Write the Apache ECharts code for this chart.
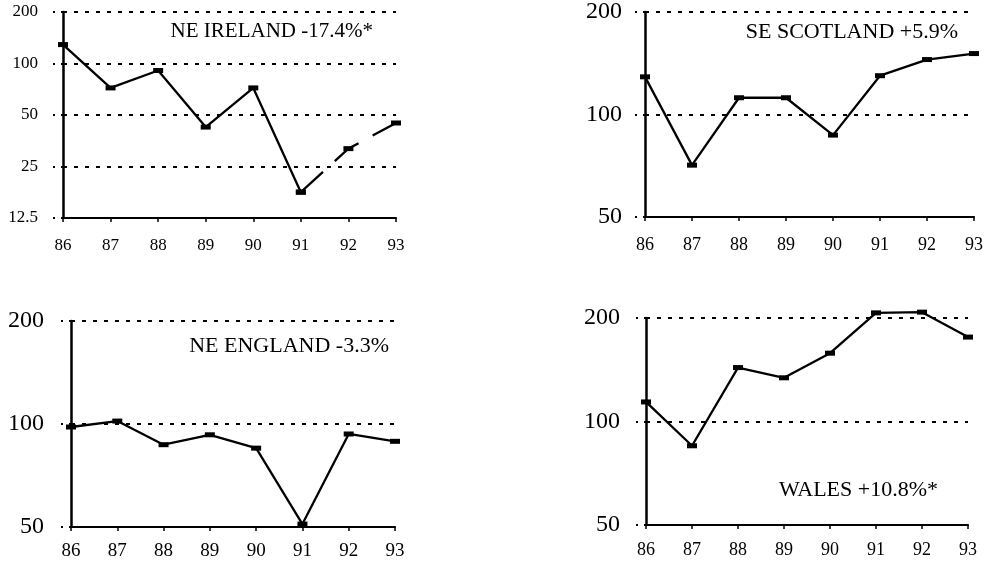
<!DOCTYPE html>
<html><head><meta charset="utf-8">
<script src="https://cdn.jsdelivr.net/npm/echarts/dist/echarts.min.js"></script>
<style>html,body{margin:0;padding:0;background:#fff}#c{width:986px;height:563px}</style>
</head><body><div id="c"></div>
<script>
const years = ['86', '87', '88', '89', '90', '91', '92', '93'];
const neIrelandSolid = [129, 72, 91, 42.5, 72, 17.7, null, null];
const neIrelandDashed = [null, null, null, null, null, 17.7, 31.8, 44.9];
const seScotland = [129, 71, 112, 112, 87, 130, 145, 151];
const neEngland = [98, 102, 87, 93, 85, 51, 93.5, 89];
const wales = [114, 85, 143.5, 134, 158, 207, 208, 176];
const ticksIreland = [12.5, 25, 50, 100, 200];
const ticksOther = [50, 100, 200];
const titles = ['NE IRELAND -17.4%*', 'SE SCOTLAND +5.9%', 'NE ENGLAND -3.3%', 'WALES +10.8%*'];

const FONT = 'Liberation Serif';
const chart = echarts.init(document.getElementById('c'), null, {renderer: 'canvas'});

function yAxis(gi, min, ticks, fs, margin) {
  return {
    type: 'log', logBase: 2, gridIndex: gi, min: min, max: 200,
    axisLine: {show: true, lineStyle: {color: '#000', width: 2.5}},
    axisTick: {show: true, customValues: ticks, length: 12, lineStyle: {color: '#000', type: [2, 6], width: 2}},
    axisLabel: {customValues: ticks, color: '#000', fontFamily: FONT, fontSize: fs, margin: margin},
    splitLine: {show: true, lineStyle: {color: '#000', type: [4, 7], width: 2.2}},
    minorTick: {show: false}, minorSplitLine: {show: false}
  };
}
function xAxis(gi, fs, margin) {
  return {
    type: 'category', gridIndex: gi, data: years, boundaryGap: false,
    axisLine: {show: true, lineStyle: {color: '#000', width: 2.2}},
    axisTick: {show: true, length: 4, lineStyle: {color: '#000', width: 1.5}},
    axisLabel: {color: '#000', fontFamily: FONT, fontSize: fs, margin: margin},
    splitLine: {show: false}
  };
}
function line(gi, data, dashed) {
  return {
    type: 'line', xAxisIndex: gi, yAxisIndex: gi, data: data,
    symbol: 'rect', symbolSize: [10, 5], clip: false, connectNulls: false,
    itemStyle: {color: '#000'},
    lineStyle: {color: '#000', width: 2.3, type: dashed ? [30, 16] : 'solid'},
    animation: false
  };
}
function title(text, x, y, fs) {
  return {type: 'text', x: x, y: y,
    style: {text: text, fill: '#000', font: fs + 'px "' + FONT + '"', textAlign: 'right', textVerticalAlign: 'middle'}};
}

chart.setOption({
  backgroundColor: '#fff',
  animation: false,
  grid: [
    {left: 63, top: 12, width: 333, height: 206},
    {left: 645, top: 9, width: 330, height: 208},
    {left: 71, top: 321, width: 324, height: 206},
    {left: 646, top: 318, width: 322, height: 207}
  ],
  xAxis: [xAxis(0, 17, 19), xAxis(1, 18, 19), xAxis(2, 19, 15), xAxis(3, 18, 16)],
  yAxis: [yAxis(0, 12.5, ticksIreland, 17, 25), yAxis(1, 50, ticksOther, 24, 23),
          yAxis(2, 50, ticksOther, 24, 27), yAxis(3, 50, ticksOther, 24, 26)],
  series: [line(0, neIrelandSolid, false), line(0, neIrelandDashed, true),
           line(1, seScotland, false), line(2, neEngland, false), line(3, wales, false)],
  graphic: [title(titles[0], 373, 31, 21), title(titles[1], 958, 32, 22),
            title(titles[2], 389, 346, 22), title(titles[3], 938, 490, 22)]
});
</script></body></html>
